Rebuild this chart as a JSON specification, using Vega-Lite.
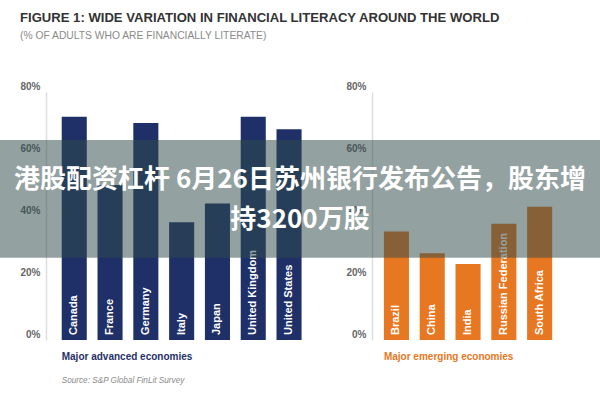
{
  "$schema": "https://vega.github.io/schema/vega-lite/v6.json",
  "autosize": {"type": "none"},
  "width": 600,
  "height": 248,
  "padding": {"left": 0, "right": 0, "top": 92, "bottom": 60},
  "background": "white",
  "title": {
    "text": "FIGURE 1: WIDE VARIATION IN FINANCIAL LITERACY AROUND THE WORLD",
    "subtitle": "(% OF ADULTS WHO ARE FINANCIALLY LITERATE)",
    "anchor": "start",
    "frame": "group",
    "dx": 20,
    "offset": 40,
    "font": "Liberation Sans",
    "fontSize": 13.1,
    "fontWeight": "bold",
    "color": "#333333",
    "subtitleFont": "Liberation Sans",
    "subtitleFontSize": 10.3,
    "subtitleColor": "#8a8a8a",
    "subtitlePadding": 6
  },
  "datasets": {
    "countries": [
      {"country": "Canada", "group": "advanced", "value": 72},
      {"country": "France", "group": "advanced", "value": 50},
      {"country": "Germany", "group": "advanced", "value": 70},
      {"country": "Italy", "group": "advanced", "value": 38},
      {"country": "Japan", "group": "advanced", "value": 44},
      {"country": "United Kingdom", "group": "advanced", "value": 72},
      {"country": "United States", "group": "advanced", "value": 68},
      {"country": "Brazil", "group": "emerging", "value": 35},
      {"country": "China", "group": "emerging", "value": 28},
      {"country": "India", "group": "emerging", "value": 24.5},
      {"country": "Russian Federation", "group": "emerging", "value": 37.5},
      {"country": "South Africa", "group": "emerging", "value": 43}
    ],
    "banner": [
      {"line1": "港股配资杠杆 6月26日苏州银行发布公告，股东增", "line2": "持3200万股"}
    ]
  },
  "layer": [
    {
      "data": {"name": "countries"},
      "transform": [{"filter": "datum.group === 'advanced'"}],
      "mark": {"type": "bar", "color": "#1f3068"},
      "encoding": {
        "x": {
          "field": "country",
          "type": "nominal",
          "axis": null,
          "scale": {
            "domain": ["a", "Canada", "France", "Germany", "Italy", "Japan", "United Kingdom", "United States", "b", "c", "Brazil", "China", "India", "Russian Federation", "South Africa", "d"],
            "paddingInner": 0.3,
            "paddingOuter": 0.53,
            "align": 0.683
          }
        },
        "y": {
          "field": "value",
          "type": "quantitative",
          "scale": {"domain": [0, 80], "nice": false},
          "axis": {
            "orient": "left",
            "offset": -46,
            "values": [0, 20, 40, 60, 80],
            "labelExpr": "datum.value + '%'",
            "title": null,
            "ticks": false,
            "grid": false,
            "domainColor": "#dddddd",
            "domainWidth": 1.5,
            "labelFont": "Liberation Sans",
            "labelFontSize": 10,
            "labelFontWeight": "bold",
            "labelColor": "#666666",
            "labelPadding": 6,
            "labelOffset": -6
          }
        }
      }
    },
    {
      "data": {"name": "countries"},
      "transform": [{"filter": "datum.group === 'emerging'"}],
      "mark": {"type": "bar", "color": "#e87722"},
      "encoding": {
        "x": {"field": "country", "type": "nominal", "axis": null},
        "y": {
          "field": "value",
          "type": "quantitative",
          "axis": {
            "orient": "left",
            "offset": -372,
            "values": [0, 20, 40, 60, 80],
            "labelExpr": "datum.value + '%'",
            "title": null,
            "ticks": false,
            "grid": false,
            "domainColor": "#dddddd",
            "domainWidth": 1.5,
            "labelFont": "Liberation Sans",
            "labelFontSize": 10,
            "labelFontWeight": "bold",
            "labelColor": "#666666",
            "labelPadding": 6,
            "labelOffset": -6
          }
        }
      }
    },
    {
      "data": {"name": "countries"},
      "mark": {"type": "text", "angle": 270, "align": "left", "baseline": "middle", "dx": 5, "color": "white", "font": "Liberation Sans", "fontSize": 11, "fontWeight": "bold"},
      "encoding": {
        "x": {"field": "country", "type": "nominal", "axis": null},
        "y": {"datum": 0, "type": "quantitative", "axis": null},
        "text": {"field": "country"}
      }
    },
    {
      "data": {"name": "banner"},
      "mark": {"type": "text", "align": "left", "baseline": "middle", "color": "#1f3068", "font": "Liberation Sans", "fontSize": 10, "fontWeight": "bold"},
      "encoding": {
        "x": {"datum": "Canada", "bandPosition": 0, "axis": null},
        "y": {"datum": -5.5, "type": "quantitative", "axis": null},
        "text": {"value": "Major advanced economies"}
      }
    },
    {
      "data": {"name": "banner"},
      "mark": {"type": "text", "align": "left", "baseline": "middle", "color": "#e87722", "font": "Liberation Sans", "fontSize": 10, "fontWeight": "bold"},
      "encoding": {
        "x": {"datum": "Brazil", "bandPosition": 0, "axis": null},
        "y": {"datum": -5.5, "type": "quantitative", "axis": null},
        "text": {"value": "Major emerging economies"}
      }
    },
    {
      "data": {"name": "banner"},
      "mark": {"type": "text", "align": "left", "baseline": "middle", "color": "#8a8a8a", "font": "Liberation Sans", "fontSize": 8.2, "fontStyle": "italic"},
      "encoding": {
        "x": {"datum": "Canada", "bandPosition": 0, "axis": null},
        "y": {"datum": -13.2, "type": "quantitative", "axis": null},
        "text": {"value": "Source: S&P Global FinLit Survey"}
      }
    },
    {
      "data": {"name": "banner"},
      "mark": {"type": "rect", "color": "#2f4a4b", "opacity": 0.52},
      "encoding": {
        "y": {"datum": 26.5, "type": "quantitative", "axis": null},
        "y2": {"datum": 64.5}
      }
    },
    {
      "data": {"name": "banner"},
      "mark": {"type": "text", "align": "center", "baseline": "middle", "color": "white", "font": "Noto Sans CJK SC", "fontSize": 26, "fontWeight": "bold"},
      "encoding": {
        "y": {"datum": 51.6, "type": "quantitative", "axis": null},
        "text": {"field": "line1"}
      }
    },
    {
      "data": {"name": "banner"},
      "mark": {"type": "text", "align": "center", "baseline": "middle", "color": "white", "font": "Noto Sans CJK SC", "fontSize": 26, "fontWeight": "bold"},
      "encoding": {
        "y": {"datum": 38.7, "type": "quantitative", "axis": null},
        "text": {"field": "line2"}
      }
    }
  ],
  "resolve": {"axis": {"y": "independent"}},
  "config": {"view": {"stroke": null}}
}
